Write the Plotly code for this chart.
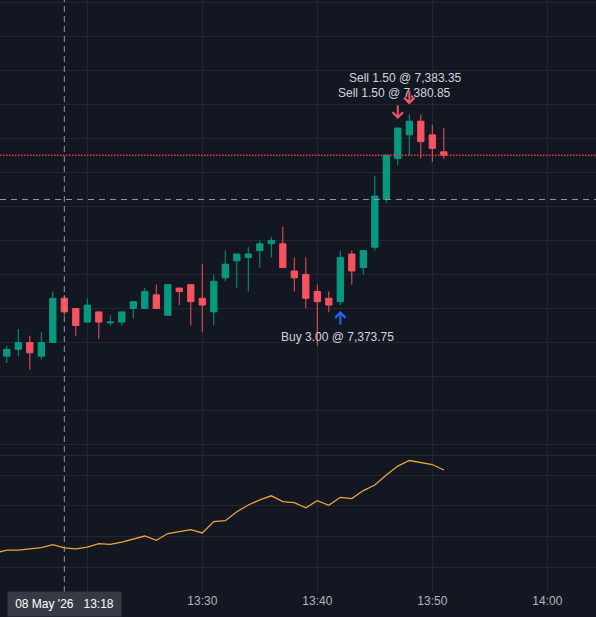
import pandas as pd
import plotly.graph_objects as go
from plotly.subplots import make_subplots

DAY = "2026-05-08"

# ---- candle data (1-minute bars) ----
times = ["13:13", "13:14", "13:15", "13:16", "13:17", "13:18", "13:19", "13:20",
         "13:21", "13:22", "13:23", "13:24", "13:25", "13:26", "13:27", "13:28",
         "13:29", "13:30", "13:31", "13:32", "13:33", "13:34", "13:35", "13:36",
         "13:37", "13:38", "13:39", "13:40", "13:41", "13:42", "13:43", "13:44",
         "13:45", "13:46", "13:47", "13:48", "13:49", "13:50", "13:51"]
opens = [7366.5, 7367.0, 7367.5, 7366.5, 7367.5, 7370.75, 7370.0, 7369.0,
         7369.75, 7368.95, 7369.0, 7370.0, 7370.0, 7371.0, 7369.5, 7371.5,
         7371.75, 7370.75, 7369.75, 7372.25, 7373.5, 7373.75, 7374.25, 7374.75,
         7374.75, 7372.75, 7372.5, 7371.25, 7370.75, 7370.5, 7374.0, 7373.0,
         7374.5, 7378.0, 7381.0, 7382.75, 7383.75, 7382.75, 7381.5]
highs = [7367.25, 7368.5, 7368.0, 7368.25, 7371.25, 7371.0, 7370.0, 7370.75,
         7369.75, 7369.5, 7369.75, 7370.5, 7371.5, 7371.75, 7371.75, 7371.5,
         7371.75, 7373.25, 7372.5, 7374.25, 7374.0, 7374.5, 7375.0, 7375.25,
         7376.0, 7373.75, 7373.75, 7371.75, 7371.25, 7374.25, 7374.25, 7374.25,
         7379.75, 7381.25, 7383.25, 7384.25, 7384.25, 7383.5, 7383.25]
lows = [7366.0, 7366.5, 7365.5, 7366.25, 7367.5, 7369.5, 7368.0, 7369.0,
        7367.75, 7368.75, 7368.75, 7369.25, 7370.0, 7370.0, 7369.5, 7370.25,
        7368.75, 7368.25, 7368.75, 7372.0, 7371.5, 7371.25, 7373.0, 7373.75,
        7373.0, 7371.25, 7370.0, 7367.25, 7369.75, 7370.25, 7371.75, 7372.5,
        7374.25, 7377.75, 7380.5, 7381.25, 7381.0, 7380.75, 7381.0]
closes = [7367.0, 7367.5, 7366.75, 7367.5, 7370.75, 7369.75, 7368.75, 7370.25,
          7369.0, 7369.0, 7369.75, 7370.5, 7371.25, 7370.0, 7371.75, 7371.25,
          7370.5, 7370.25, 7372.0, 7373.25, 7374.0, 7374.0, 7374.75, 7375.0,
          7373.0, 7372.25, 7370.75, 7370.5, 7370.25, 7373.75, 7372.75, 7374.25,
          7378.25, 7381.25, 7383.25, 7383.75, 7382.25, 7381.75, 7381.25]

# ---- lower-pane indicator ----
ind_times = ["13:12"] + times
ind_values = [34.7, 35.6, 35.6, 36.0, 36.4, 37.4, 36.3, 36.0, 36.6,
              37.7, 37.5, 38.2, 39.3, 40.2, 38.8, 41.0, 41.6,
              42.3, 41.2, 44.9, 45.2, 48.1, 50.3, 52.0, 53.3,
              51.4, 51.1, 49.4, 51.7, 50.2, 52.8, 52.4, 55.0,
              56.8, 60.1, 63.0, 64.8, 64.2, 63.5, 61.7]

# ---- trade markers ----
buy_time = "13:42"
buy_label = "Buy 3.00 @ 7,373.75"
sell_times = ["13:47", "13:48"]
sell_labels = ["Sell 1.50 @ 7,380.85", "Sell 1.50 @ 7,383.35"]

# ---- view / crosshair ----
crosshair_time = "13:18"
crosshair_price = 7378.0
crosshair_label = "08 May '26&nbsp;&nbsp;&nbsp;13:18"
view_start = "13:12:24.5"
view_end = "14:04:14"
price_range = [7359.22, 7392.65]
ind_range = [21.95, 66.5]
x_ticks = ["13:20", "13:30", "13:40", "13:50", "14:00"]
x_tick_text = ["", "13:30", "13:40", "13:50", "14:00"]  # 13:20 hidden under crosshair label

# ---- styles ----
BG = "#131722"
GRID = "#222631"
UP = "#089981"
DOWN = "#f7525f"
BLUE = "#2962ff"
ORANGE = "#eda33b"
TEXT = "#d1d4dc"
AXIS_TEXT = "#b2b5be"
CROSS = "#9598a1"
FONT = "Liberation Sans, Arial"


def ts(t):
    return pd.Timestamp(f"{DAY} {t}")


x = [ts(t) for t in times]
xi = [ts(t) for t in ind_times]

MAIN_FRAC = 455.3 / 592.0
fig = make_subplots(rows=2, cols=1, shared_xaxes=True, vertical_spacing=0,
                    row_heights=[MAIN_FRAC, 1 - MAIN_FRAC])

fig.add_trace(go.Candlestick(
    x=x, open=opens, high=highs, low=lows, close=closes,
    increasing=dict(line=dict(color=UP, width=1), fillcolor=UP),
    decreasing=dict(line=dict(color=DOWN, width=1), fillcolor=DOWN),
    whiskerwidth=0, hoverinfo="skip", showlegend=False), row=1, col=1)

fig.add_trace(go.Scatter(
    x=xi, y=ind_values, mode="lines", line=dict(color=ORANGE, width=1.3),
    hoverinfo="skip", showlegend=False), row=2, col=1)

annotations = []
shapes = []

# buy marker
bi = times.index(buy_time)
annotations.append(dict(x=x[bi], y=lows[bi], xref="x", yref="y", text="",
                        showarrow=True, ax=0, ay=15, arrowhead=4, arrowsize=1,
                        arrowwidth=2, arrowcolor=BLUE, yshift=-6))
annotations.append(dict(x=x[bi], y=lows[bi], xref="x", yref="y", text=buy_label,
                        showarrow=False, yshift=-32, xshift=-3,
                        font=dict(family=FONT, size=12, color=TEXT)))

# sell markers
for k, (st, sl) in enumerate(zip(sell_times, sell_labels)):
    si = times.index(st)
    annotations.append(dict(x=x[si], y=highs[si], xref="x", yref="y", text="",
                            showarrow=True, ax=0, ay=-15, arrowhead=4, arrowsize=1,
                            arrowwidth=2, arrowcolor=DOWN, yshift=9 + k))
    annotations.append(dict(x=x[si], y=highs[si], xref="x", yref="y", text=sl,
                            showarrow=False, yshift=35 + k, xshift=-3.5,
                            font=dict(family=FONT, size=12, color=TEXT)))

# crosshair date label
annotations.append(dict(x=ts(crosshair_time), y=-12.0 / 592.0, xref="x2", yref="paper",
                        yanchor="middle", text=crosshair_label, showarrow=False,
                        bgcolor="#363a45", borderpad=4, width=105, height=16,
                        font=dict(family=FONT, size=12, color="#ffffff")))

# crosshair lines
shapes.append(dict(type="line", xref="x", yref="paper", x0=ts(crosshair_time),
                   x1=ts(crosshair_time), y0=0, y1=1,
                   line=dict(color=CROSS, width=1, dash="6px,4px")))
shapes.append(dict(type="line", xref="paper", yref="y", x0=0, x1=1,
                   y0=crosshair_price, y1=crosshair_price,
                   line=dict(color=CROSS, width=1, dash="6px,5px")))
# last price line
shapes.append(dict(type="line", xref="paper", yref="y", x0=0, x1=1,
                   y0=closes[-1], y1=closes[-1],
                   line=dict(color="#f23645", width=1.5, dash="1.5px,1.5px")))
# pane separator
shapes.append(dict(type="line", xref="paper", yref="paper", x0=0, x1=1,
                   y0=1 - MAIN_FRAC, y1=1 - MAIN_FRAC,
                   line=dict(color="#2a2e39", width=1)))

tick_vals = [ts(t) for t in x_ticks]
fig.update_xaxes(range=[ts(view_start), ts(view_end)], tickvals=tick_vals,
                 ticktext=x_tick_text, showgrid=True, gridcolor=GRID, gridwidth=1,
                 zeroline=False, showline=False, ticks="",
                 rangeslider=dict(visible=False),
                 tickfont=dict(family=FONT, size=12, color=AXIS_TEXT))
fig.update_xaxes(showticklabels=False, row=1, col=1)
fig.update_yaxes(range=price_range, dtick=2.5, tick0=0, showgrid=True, gridcolor=GRID,
                 zeroline=False, showticklabels=False, showline=False, row=1, col=1)
fig.update_yaxes(range=ind_range, dtick=10, tick0=0, showgrid=True, gridcolor=GRID,
                 zeroline=False, showticklabels=False, showline=False, row=2, col=1)

fig.update_layout(width=596, height=617, margin=dict(l=0, r=0, t=0, b=25),
                  paper_bgcolor=BG, plot_bgcolor=BG, showlegend=False,
                  hovermode=False, boxgap=0.22,
                  annotations=annotations, shapes=shapes)

fig.write_html("out.html", config={"displayModeBar": False},
               post_script="document.body.style.margin='0';")
